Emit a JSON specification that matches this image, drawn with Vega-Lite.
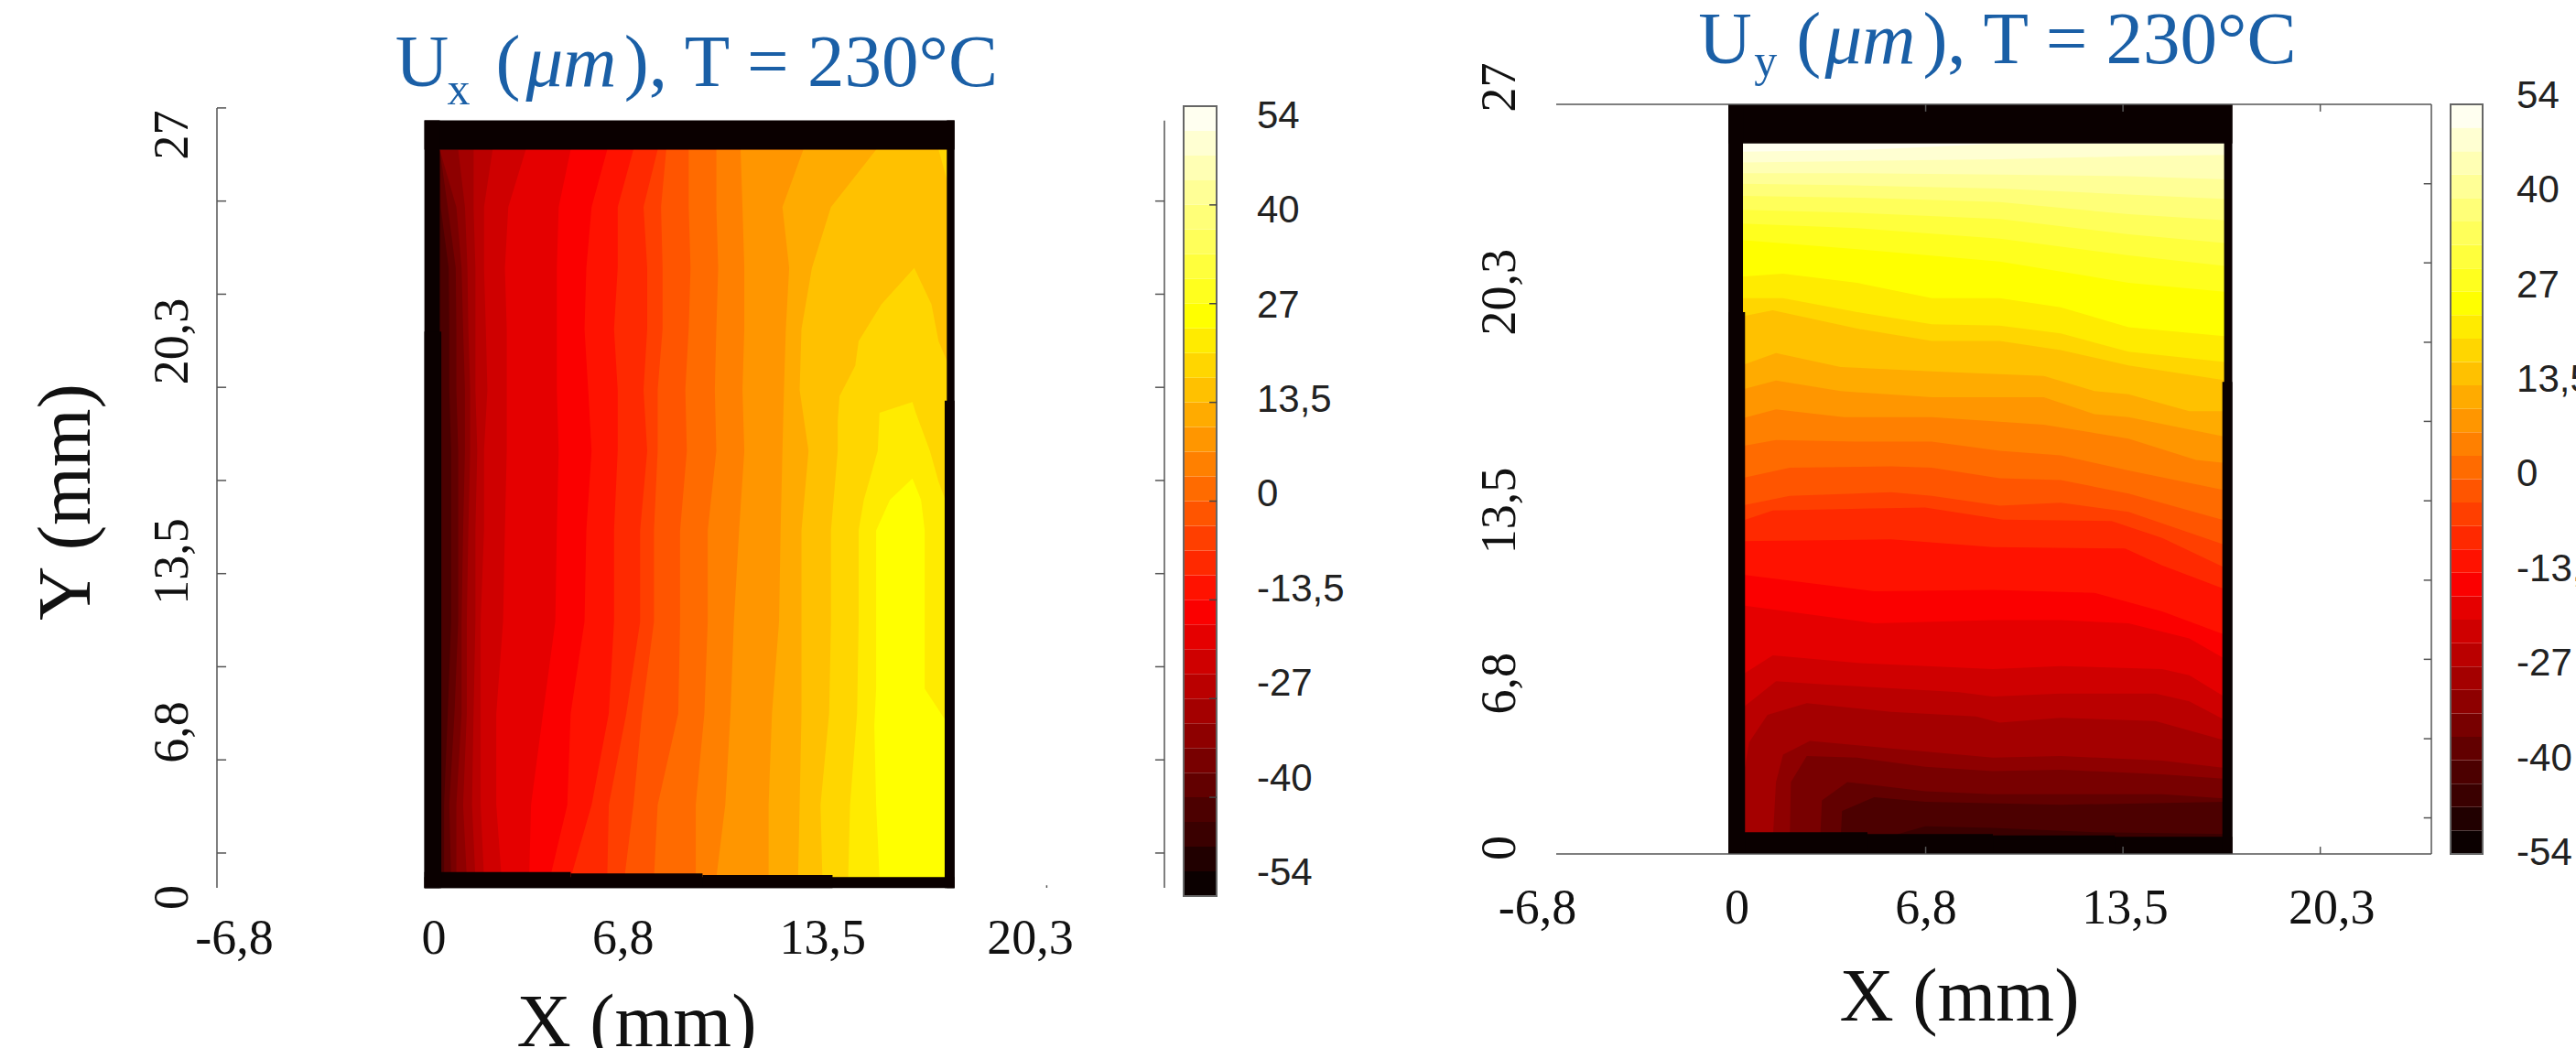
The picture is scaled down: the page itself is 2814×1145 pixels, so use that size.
{"$schema":"https://vega.github.io/schema/vega-lite/v6.json","background":"white","padding":{"left":31,"top":3,"right":0,"bottom":0},"autosize":{"type":"pad"},"bounds":"flush","spacing":21,"config":{"view":{"stroke":null},"legend":{"disable":true},"range":{"ordinal":["#0b0000","#210000","#3a0000","#4c0000","#620000","#780000","#8e0000","#a40000","#ba0000","#cf0000","#e50000","#fb0000","#ff1200","#ff2900","#ff3f00","#ff5500","#ff6b00","#ff8000","#ff9600","#ffab00","#ffc100","#ffd600","#ffeb00","#ffff00","#ffff1e","#ffff3c","#ffff5a","#ffff78","#ffff96","#ffffb4","#ffffd2","#fffff0"]}},"hconcat":[{"width":1035,"height":865,"layer":[{"data":{"values":[{"y":25.49,"b02":0.4,"b03":0.5,"b04":0.5,"b05":0.5,"b06":0.5,"b07":1.10,"b08":1.60,"b09":2.22,"b10":3.30,"b11":4.76,"b12":5.95,"b13":6.80,"b14":7.59,"b15":7.87,"b16":8.60,"b17":9.50,"b18":10.29,"b19":12.33,"b20":14.70},{"y":23.41,"b02":0.4,"b03":0.5,"b04":0.53,"b05":0.76,"b06":1.04,"b07":1.32,"b08":1.60,"b09":1.94,"b10":2.73,"b11":4.37,"b12":5.44,"b13":6.29,"b14":7.13,"b15":7.70,"b16":8.60,"b17":9.50,"b18":10.35,"b19":11.65,"b20":13.23},{"y":21.2,"b02":0.4,"b03":0.5,"b04":0.79,"b05":1.02,"b06":1.21,"b07":1.40,"b08":1.66,"b09":1.94,"b10":2.62,"b11":4.31,"b12":5.27,"b13":6.29,"b14":7.25,"b15":7.75,"b16":8.66,"b17":9.56,"b18":10.41,"b19":11.87,"b20":12.61},{"y":18.99,"b02":0.4,"b03":0.5,"b04":0.81,"b05":1.04,"b06":1.26,"b07":1.43,"b08":1.66,"b09":2.0,"b10":2.68,"b11":4.31,"b12":5.21,"b13":6.17,"b14":7.25,"b15":7.75,"b16":8.60,"b17":9.50,"b18":10.41,"b19":11.76,"b20":12.27},{"y":16.78,"b02":0.4,"b03":0.55,"b04":0.81,"b05":1.04,"b06":1.32,"b07":1.49,"b08":1.66,"b09":2.05,"b10":2.68,"b11":4.31,"b12":5.33,"b13":6.29,"b14":7.13,"b15":7.59,"b16":8.49,"b17":9.45,"b18":10.35,"b19":11.70,"b20":12.21},{"y":14.57,"b02":0.4,"b03":0.55,"b04":0.87,"b05":1.10,"b06":1.32,"b07":1.49,"b08":1.72,"b09":1.94,"b10":2.68,"b11":4.37,"b12":5.44,"b13":6.29,"b14":7.25,"b15":7.59,"b16":8.54,"b17":9.50,"b18":10.41,"b19":11.65,"b20":12.50},{"y":11.69,"b02":0.4,"b03":0.55,"b04":0.87,"b05":1.10,"b06":1.26,"b07":1.43,"b08":1.66,"b09":1.94,"b10":2.62,"b11":4.31,"b12":5.27,"b13":6.17,"b14":7.02,"b15":7.47,"b16":8.32,"b17":9.22,"b18":10.24,"b19":11.59,"b20":12.27},{"y":8.38,"b02":0.4,"b03":0.55,"b04":0.87,"b05":1.10,"b06":1.21,"b07":1.38,"b08":1.66,"b09":1.83,"b10":2.56,"b11":4.26,"b12":5.21,"b13":6.17,"b14":7.02,"b15":7.47,"b16":8.32,"b17":9.22,"b18":10.07,"b19":11.54,"b20":12.27},{"y":5.06,"b02":0.4,"b03":0.55,"b04":0.76,"b05":0.98,"b06":1.21,"b07":1.38,"b08":1.60,"b09":1.83,"b10":2.34,"b11":3.86,"b12":4.76,"b13":6.0,"b14":6.57,"b15":7.08,"b16":8.26,"b17":9.11,"b18":9.96,"b19":11.31,"b20":12.27},{"y":1.74,"b02":0.4,"b03":0.55,"b04":0.64,"b05":0.81,"b06":1.04,"b07":1.26,"b08":1.55,"b09":1.83,"b10":2.34,"b11":3.47,"b12":4.65,"b13":5.44,"b14":6.0,"b15":6.80,"b16":7.59,"b17":8.83,"b18":9.79,"b19":11.2,"b20":12.21},{"y":-0.9,"b02":0.4,"b03":0.55,"b04":0.64,"b05":0.87,"b06":1.04,"b07":1.38,"b08":1.66,"b09":1.94,"b10":2.51,"b11":3.41,"b12":4.09,"b13":4.76,"b14":5.95,"b15":6.51,"b16":7.47,"b17":8.83,"b18":9.50,"b19":11.2,"b20":12.16}]},"transform":[{"fold":["b02","b03","b04","b05","b06","b07","b08","b09","b10","b11","b12","b13","b14","b15","b16","b17","b18","b19","b20"],"as":["band","xpos"]}],"mark":{"type":"area","orient":"horizontal"},"encoding":{"x":{"field":"xpos","type":"quantitative","stack":null,"title":"X (mm)","scale":{"domain":[-6.75,24.08],"nice":false,"zero":false},"axis":{"values":[-6.75,0,6.75,13.5,20.25],"labelExpr":"datum.value==-6.75?'-6,8':datum.value==0?'0':datum.value==6.75?'6,8':datum.value==13.5?'13,5':'20,3'","domain":false,"ticks":false,"grid":false,"labelFont":"Liberation Serif","labelFontSize":54,"labelColor":"#111","labelBaseline":"alphabetic","labelPadding":62,"labelFlush":false,"labelOverlap":false,"labelOffset":{"condition":[{"test":"datum.value==-6.75","value":18.5},{"test":"datum.value==0","value":10},{"test":"datum.value==6.75","value":-10}],"value":-18.5},"titleFont":"Liberation Serif","titleFontSize":82,"titleFontWeight":"normal","titleColor":"#111","titleX":458,"titleY":163,"titleBaseline":"alphabetic","titleAlign":"center"}},"x2":{"datum":17.1},"y":{"field":"y","type":"quantitative","title":"Y (mm)","scale":{"domain":[-1.56,27.13],"nice":false,"zero":false},"axis":{"values":[0,6.75,13.5,20.25,27],"labelExpr":"datum.value==0?'0':datum.value==6.75?'6,8':datum.value==13.5?'13,5':datum.value==20.25?'20,3':'27'","domain":false,"ticks":false,"grid":false,"labelFont":"Liberation Serif","labelFontSize":54,"labelColor":"#111","labelAngle":-90,"labelAlign":"center","labelBaseline":"alphabetic","labelPadding":33,"labelOverlap":false,"labelFlush":false,"labelOffset":{"condition":[{"test":"datum.value==27","value":29},{"test":"datum.value==20.25","value":51},{"test":"datum.value==13.5","value":88},{"test":"datum.value==6.75","value":71}],"value":48},"titleFont":"Liberation Serif","titleFontSize":82,"titleFontWeight":"normal","titleColor":"#111","titleX":-140,"titleY":434,"titleBaseline":"alphabetic","titleAlign":"center"}},"color":{"field":"band","type":"ordinal"}}},{"data":{"values":[{"band":"b21","y":25.49,"x":16.73,"x2":17.07},{"band":"b21","y":24.13,"x":17.07,"x2":17.07},{"band":"b21","y":21.2,"x":15.94,"x2":15.94},{"band":"b21","y":19.88,"x":14.87,"x2":16.5},{"band":"b21","y":18.55,"x":14.13,"x2":16.73},{"band":"b21","y":17.66,"x":14.02,"x2":17.07},{"band":"b21","y":16.56,"x":13.51,"x2":17.07},{"band":"b21","y":15.67,"x":13.45,"x2":17.07},{"band":"b21","y":14.57,"x":13.45,"x2":17.07},{"band":"b21","y":11.69,"x":13.23,"x2":17.07},{"band":"b21","y":8.38,"x":13.23,"x2":17.07},{"band":"b21","y":5.06,"x":13.17,"x2":17.07},{"band":"b21","y":1.74,"x":12.89,"x2":17.07},{"band":"b21","y":-0.9,"x":12.95,"x2":17.07},{"band":"b22","y":16.34,"x":15.88,"x2":15.88},{"band":"b22","y":15.95,"x":14.81,"x2":15.99},{"band":"b22","y":14.57,"x":14.75,"x2":16.45},{"band":"b22","y":13.46,"x":14.47,"x2":16.73},{"band":"b22","y":12.8,"x":14.3,"x2":16.95},{"band":"b22","y":11.69,"x":14.13,"x2":17.07},{"band":"b22","y":8.38,"x":14.13,"x2":17.07},{"band":"b22","y":5.06,"x":14.08,"x2":17.07},{"band":"b22","y":1.74,"x":13.85,"x2":17.07},{"band":"b22","y":-0.9,"x":13.79,"x2":17.07},{"band":"b23","y":13.57,"x":15.88,"x2":15.88},{"band":"b23","y":12.8,"x":15.15,"x2":16.16},{"band":"b23","y":11.69,"x":14.7,"x2":16.28},{"band":"b23","y":8.38,"x":14.7,"x2":16.28},{"band":"b23","y":5.95,"x":14.7,"x2":16.28},{"band":"b23","y":4.62,"x":14.64,"x2":17.07},{"band":"b23","y":1.74,"x":14.7,"x2":17.07},{"band":"b23","y":-0.9,"x":14.81,"x2":17.07}]},"mark":{"type":"area","orient":"horizontal"},"encoding":{"x":{"field":"x","type":"quantitative","stack":null,"title":"X (mm)","scale":{"domain":[-6.75,24.08],"nice":false,"zero":false}},"x2":{"field":"x2"},"y":{"field":"y","type":"quantitative","title":"Y (mm)","scale":{"domain":[-1.56,27.13],"nice":false,"zero":false}},"color":{"field":"band","type":"ordinal"}}},{"data":{"values":[{"x":0,"x2":17.25,"y":25.49,"y2":26.55},{"x":0,"x2":17.25,"y":-1.27,"y2":-0.87},{"x":0,"x2":4.76,"y":-1.27,"y2":-0.69},{"x":4.76,"x2":9.05,"y":-1.27,"y2":-0.74},{"x":9.05,"x2":13.28,"y":-1.27,"y2":-0.8},{"x":0,"x2":0.5,"y":-1.27,"y2":26.55},{"x":0,"x2":0.55,"y":-1.27,"y2":18.9},{"x":17.0,"x2":17.25,"y":-1.27,"y2":26.55},{"x":16.93,"x2":17.25,"y":-1.27,"y2":16.39}]},"mark":{"type":"rect","color":"#0a0000"},"encoding":{"x":{"field":"x","type":"quantitative","title":"X (mm)","scale":{"domain":[-6.75,24.08],"nice":false,"zero":false}},"x2":{"field":"x2"},"y":{"field":"y","type":"quantitative","title":"Y (mm)","scale":{"domain":[-1.56,27.13],"nice":false,"zero":false}},"y2":{"field":"y2"}}},{"data":{"values":[{"x":-6.75,"x2":-6.75,"y":-1.26,"y2":27},{"x":-6.75,"x2":-6.45,"y":27,"y2":27},{"x":-6.75,"x2":-6.45,"y":23.625,"y2":23.625},{"x":-6.75,"x2":-6.45,"y":20.25,"y2":20.25},{"x":-6.75,"x2":-6.45,"y":16.875,"y2":16.875},{"x":-6.75,"x2":-6.45,"y":13.5,"y2":13.5},{"x":-6.75,"x2":-6.45,"y":10.125,"y2":10.125},{"x":-6.75,"x2":-6.45,"y":6.75,"y2":6.75},{"x":-6.75,"x2":-6.45,"y":3.375,"y2":3.375},{"x":-6.75,"x2":-6.45,"y":0,"y2":0},{"x":24.08,"x2":24.08,"y":-1.26,"y2":26.54},{"x":23.78,"x2":24.08,"y":23.625,"y2":23.625},{"x":23.78,"x2":24.08,"y":20.25,"y2":20.25},{"x":23.78,"x2":24.08,"y":16.875,"y2":16.875},{"x":23.78,"x2":24.08,"y":13.5,"y2":13.5},{"x":23.78,"x2":24.08,"y":10.125,"y2":10.125},{"x":23.78,"x2":24.08,"y":6.75,"y2":6.75},{"x":23.78,"x2":24.08,"y":3.375,"y2":3.375},{"x":23.78,"x2":24.08,"y":0,"y2":0},{"x":20.25,"x2":20.25,"y":-1.26,"y2":-1.17}]},"mark":{"type":"rule","color":"#555555","strokeWidth":1.5},"encoding":{"x":{"field":"x","type":"quantitative","title":"X (mm)","scale":{"domain":[-6.75,24.08],"nice":false,"zero":false}},"x2":{"field":"x2"},"y":{"field":"y","type":"quantitative","title":"Y (mm)","scale":{"domain":[-1.56,27.13],"nice":false,"zero":false}},"y2":{"field":"y2"}}},{"data":{"values":[{"t":"U","x":-0.95,"y":27.79},{"t":"(","x":2.32,"y":27.79},{"t":"), T = 230°C","x":6.5,"y":27.79}]},"mark":{"type":"text","font":"Liberation Serif","fontSize":81,"color":"#1a5fa6","align":"left","baseline":"alphabetic"},"encoding":{"text":{"field":"t"},"x":{"field":"x","type":"quantitative","title":"X (mm)","scale":{"domain":[-6.75,24.08],"nice":false,"zero":false}},"y":{"field":"y","type":"quantitative","title":"Y (mm)","scale":{"domain":[-1.56,27.13],"nice":false,"zero":false}}}},{"data":{"values":[{"t":"x","x":0.74,"y":27.13}]},"mark":{"type":"text","font":"Liberation Serif","fontSize":50,"color":"#1a5fa6","align":"left","baseline":"alphabetic"},"encoding":{"text":{"field":"t"},"x":{"field":"x","type":"quantitative","title":"X (mm)","scale":{"domain":[-6.75,24.08],"nice":false,"zero":false}},"y":{"field":"y","type":"quantitative","title":"Y (mm)","scale":{"domain":[-1.56,27.13],"nice":false,"zero":false}}}},{"data":{"values":[{"t":"μm","x":3.3,"y":27.79}]},"mark":{"type":"text","font":"Liberation Serif","fontSize":81,"fontStyle":"italic","color":"#1a5fa6","align":"left","baseline":"alphabetic"},"encoding":{"text":{"field":"t"},"x":{"field":"x","type":"quantitative","title":"X (mm)","scale":{"domain":[-6.75,24.08],"nice":false,"zero":false}},"y":{"field":"y","type":"quantitative","title":"Y (mm)","scale":{"domain":[-1.56,27.13],"nice":false,"zero":false}}}}]},{"width":36,"height":865,"resolve":{"scale":{"y":"independent"}},"layer":[{"data":{"name":"bar"},"mark":{"type":"rect"},"encoding":{"x":{"datum":0,"type":"quantitative","scale":{"domain":[0,1],"nice":false,"zero":false},"axis":null},"x2":{"datum":1},"y":{"field":"lo","type":"quantitative","scale":{"domain":[-54,54.25],"nice":false,"zero":false},"axis":null},"y2":{"field":"hi"},"color":{"field":"band","type":"ordinal"}}},{"data":{"values":[{"v":-54,"v2":54}]},"mark":{"type":"rect","fillOpacity":0,"stroke":"#666666","strokeWidth":2},"encoding":{"x":{"datum":0,"type":"quantitative","scale":{"domain":[0,1],"nice":false,"zero":false},"axis":null},"x2":{"datum":1},"y":{"field":"v","type":"quantitative","scale":{"domain":[-54,54.25],"nice":false,"zero":false},"axis":null},"y2":{"field":"v2"}}},{"data":{"values":[{"v":40.5},{"v":27},{"v":13.5},{"v":0},{"v":-13.5},{"v":-27},{"v":-40.5}]},"mark":{"type":"rule","color":"#444444","strokeWidth":1.5},"encoding":{"x":{"datum":0.78,"type":"quantitative","scale":{"domain":[0,1],"nice":false,"zero":false},"axis":null},"x2":{"datum":1},"y":{"field":"v","type":"quantitative","scale":{"domain":[-54,54.25],"nice":false,"zero":false},"axis":null}}},{"data":{"values":[{"v":54,"t":"54"},{"v":40.5,"t":"40"},{"v":27,"t":"27"},{"v":13.5,"t":"13,5"},{"v":0,"t":"0"},{"v":-13.5,"t":"-13,5"},{"v":-27,"t":"-27"},{"v":-40.5,"t":"-40"},{"v":-54,"t":"-54"}]},"mark":{"type":"text","font":"Liberation Sans","fontSize":42,"color":"#222222","align":"left","baseline":"middle"},"encoding":{"text":{"field":"t"},"x":{"datum":2.22,"type":"quantitative","scale":{"domain":[0,1],"nice":false,"zero":false},"axis":null},"y":{"field":"v","type":"quantitative","scale":{"domain":[-57.27,55.7],"nice":false,"zero":false},"axis":null}}}]},{"width":1306,"height":865,"layer":[{"data":{"values":[{"band":"b02","x":0.4,"y":0.5},{"band":"b02","x":17.1,"y":0.5},{"band":"b03","x":0.45,"y":0.5},{"band":"b03","x":5.57,"y":0.5},{"band":"b03","x":5.81,"y":0.72},{"band":"b03","x":6.73,"y":1.0},{"band":"b03","x":9.05,"y":0.94},{"band":"b03","x":12.53,"y":0.78},{"band":"b03","x":17.05,"y":0.72},{"band":"b04","x":0.45,"y":0.5},{"band":"b04","x":3.84,"y":0.5},{"band":"b04","x":3.89,"y":1.55},{"band":"b04","x":4.99,"y":2.04},{"band":"b04","x":6.73,"y":1.88},{"band":"b04","x":11.37,"y":1.77},{"band":"b04","x":17.05,"y":1.88},{"band":"b05","x":0.45,"y":0.5},{"band":"b05","x":3.14,"y":0.5},{"band":"b05","x":3.2,"y":1.93},{"band":"b05","x":4.07,"y":2.59},{"band":"b05","x":6.73,"y":2.26},{"band":"b05","x":9.05,"y":2.15},{"band":"b05","x":11.37,"y":2.15},{"band":"b05","x":14.84,"y":2.15},{"band":"b05","x":17.05,"y":1.99},{"band":"b06","x":0.45,"y":0.5},{"band":"b06","x":2.1,"y":0.5},{"band":"b06","x":2.14,"y":2.59},{"band":"b06","x":2.68,"y":3.53},{"band":"b06","x":4.41,"y":3.47},{"band":"b06","x":6.73,"y":3.14},{"band":"b06","x":9.05,"y":2.98},{"band":"b06","x":11.37,"y":3.03},{"band":"b06","x":14.84,"y":2.87},{"band":"b06","x":17.05,"y":2.7},{"band":"b07","x":0.45,"y":0.5},{"band":"b07","x":1.52,"y":0.5},{"band":"b07","x":1.63,"y":2.59},{"band":"b07","x":1.87,"y":3.58},{"band":"b07","x":2.79,"y":4.07},{"band":"b07","x":5.57,"y":3.8},{"band":"b07","x":9.05,"y":3.47},{"band":"b07","x":11.37,"y":3.53},{"band":"b07","x":14.84,"y":3.36},{"band":"b07","x":17.05,"y":3.09},{"band":"b08","x":0.45,"y":3.14},{"band":"b08","x":0.57,"y":3.14},{"band":"b08","x":0.71,"y":4.02},{"band":"b08","x":1.34,"y":5.01},{"band":"b08","x":2.68,"y":5.43},{"band":"b08","x":5.57,"y":5.12},{"band":"b08","x":8.47,"y":4.95},{"band":"b08","x":9.28,"y":4.73},{"band":"b08","x":11.37,"y":4.9},{"band":"b08","x":14.61,"y":4.79},{"band":"b08","x":17.05,"y":4.07},{"band":"b09","x":0.45,"y":5.23},{"band":"b09","x":1.63,"y":6.22},{"band":"b09","x":3.26,"y":6.11},{"band":"b09","x":7.89,"y":5.83},{"band":"b09","x":9.05,"y":5.67},{"band":"b09","x":11.37,"y":5.78},{"band":"b09","x":14.61,"y":5.78},{"band":"b09","x":15.77,"y":5.5},{"band":"b09","x":17.05,"y":4.79},{"band":"b10","x":0.45,"y":6.44},{"band":"b10","x":1.52,"y":7.15},{"band":"b10","x":4.41,"y":6.88},{"band":"b10","x":9.05,"y":6.66},{"band":"b10","x":11.37,"y":6.77},{"band":"b10","x":14.84,"y":6.66},{"band":"b10","x":15.77,"y":6.44},{"band":"b10","x":17.05,"y":5.61},{"band":"b11","x":0.45,"y":8.96},{"band":"b11","x":4.99,"y":8.31},{"band":"b11","x":9.05,"y":8.42},{"band":"b11","x":11.37,"y":8.42},{"band":"b11","x":13.69,"y":8.31},{"band":"b11","x":15.77,"y":7.76},{"band":"b11","x":17.05,"y":6.99},{"band":"b12","x":0.45,"y":10.06},{"band":"b12","x":4.99,"y":9.46},{"band":"b12","x":9.05,"y":9.51},{"band":"b12","x":12.53,"y":9.4},{"band":"b12","x":14.84,"y":8.74},{"band":"b12","x":17.05,"y":7.87},{"band":"b13","x":0.45,"y":11.27},{"band":"b13","x":5.57,"y":11.33},{"band":"b13","x":9.05,"y":11.05},{"band":"b13","x":13.57,"y":11.0},{"band":"b13","x":14.84,"y":10.39},{"band":"b13","x":17.05,"y":9.51},{"band":"b14","x":0.45,"y":11.99},{"band":"b14","x":1.52,"y":12.37},{"band":"b14","x":6.73,"y":12.48},{"band":"b14","x":9.4,"y":12.04},{"band":"b14","x":13.11,"y":11.99},{"band":"b14","x":14.84,"y":11.38},{"band":"b14","x":17.05,"y":10.28},{"band":"b15","x":0.45,"y":12.54},{"band":"b15","x":2.1,"y":12.9},{"band":"b15","x":5.57,"y":13.03},{"band":"b15","x":6.96,"y":12.9},{"band":"b15","x":9.28,"y":12.54},{"band":"b15","x":11.37,"y":12.65},{"band":"b15","x":13.69,"y":12.32},{"band":"b15","x":17.05,"y":11.11},{"band":"b16","x":0.45,"y":13.53},{"band":"b16","x":2.1,"y":13.91},{"band":"b16","x":5.57,"y":13.96},{"band":"b16","x":6.96,"y":13.91},{"band":"b16","x":9.28,"y":13.53},{"band":"b16","x":11.37,"y":13.47},{"band":"b16","x":13.69,"y":12.98},{"band":"b16","x":17.05,"y":11.99},{"band":"b17","x":0.45,"y":14.69},{"band":"b17","x":1.63,"y":14.91},{"band":"b17","x":4.41,"y":14.85},{"band":"b17","x":6.96,"y":14.85},{"band":"b17","x":9.28,"y":14.52},{"band":"b17","x":11.37,"y":14.36},{"band":"b17","x":13.69,"y":13.81},{"band":"b17","x":17.05,"y":13.09},{"band":"b18","x":0.45,"y":15.68},{"band":"b18","x":1.63,"y":16.01},{"band":"b18","x":3.95,"y":15.73},{"band":"b18","x":6.96,"y":15.73},{"band":"b18","x":10.79,"y":15.46},{"band":"b18","x":13.69,"y":14.96},{"band":"b18","x":16.0,"y":14.19},{"band":"b18","x":17.05,"y":14.08},{"band":"b19","x":0.45,"y":16.72},{"band":"b19","x":1.63,"y":17.05},{"band":"b19","x":3.84,"y":16.67},{"band":"b19","x":6.96,"y":16.45},{"band":"b19","x":10.79,"y":16.45},{"band":"b19","x":12.53,"y":15.84},{"band":"b19","x":13.69,"y":15.73},{"band":"b19","x":17.05,"y":15.02},{"band":"b20","x":0.45,"y":17.6},{"band":"b20","x":1.63,"y":18.04},{"band":"b20","x":3.84,"y":17.54},{"band":"b20","x":6.96,"y":17.38},{"band":"b20","x":10.79,"y":17.22},{"band":"b20","x":12.53,"y":16.67},{"band":"b20","x":13.69,"y":16.56},{"band":"b20","x":15.77,"y":15.95},{"band":"b20","x":17.05,"y":15.95},{"band":"b21","x":0.45,"y":19.36},{"band":"b21","x":1.52,"y":19.58},{"band":"b21","x":4.41,"y":18.92},{"band":"b21","x":6.96,"y":18.48},{"band":"b21","x":9.28,"y":18.48},{"band":"b21","x":11.37,"y":18.15},{"band":"b21","x":13.69,"y":17.6},{"band":"b21","x":17.05,"y":17.05},{"band":"b22","x":0.45,"y":20.02},{"band":"b22","x":1.87,"y":20.02},{"band":"b22","x":4.41,"y":19.52},{"band":"b22","x":6.96,"y":19.08},{"band":"b22","x":9.28,"y":19.03},{"band":"b22","x":11.37,"y":18.75},{"band":"b22","x":13.69,"y":18.09},{"band":"b22","x":17.05,"y":17.71},{"band":"b23","x":0.45,"y":20.79},{"band":"b23","x":1.87,"y":20.9},{"band":"b23","x":4.41,"y":20.57},{"band":"b23","x":6.96,"y":20.02},{"band":"b23","x":9.28,"y":20.02},{"band":"b23","x":11.37,"y":19.69},{"band":"b23","x":13.69,"y":18.97},{"band":"b23","x":17.05,"y":18.64},{"band":"b24","x":0.45,"y":22.11},{"band":"b24","x":4.41,"y":21.78},{"band":"b24","x":9.28,"y":21.34},{"band":"b24","x":13.69,"y":20.57},{"band":"b24","x":17.05,"y":20.24},{"band":"b25","x":0.45,"y":22.71},{"band":"b25","x":4.41,"y":22.54},{"band":"b25","x":9.28,"y":22.16},{"band":"b25","x":13.69,"y":21.56},{"band":"b25","x":17.05,"y":21.17},{"band":"b26","x":0.45,"y":23.2},{"band":"b26","x":4.41,"y":23.09},{"band":"b26","x":9.28,"y":22.87},{"band":"b26","x":13.69,"y":22.32},{"band":"b26","x":17.05,"y":22.0},{"band":"b27","x":0.45,"y":23.7},{"band":"b27","x":4.41,"y":23.64},{"band":"b27","x":9.28,"y":23.48},{"band":"b27","x":13.69,"y":23.04},{"band":"b27","x":17.05,"y":22.82},{"band":"b28","x":0.45,"y":24.14},{"band":"b28","x":4.41,"y":24.08},{"band":"b28","x":9.28,"y":23.97},{"band":"b28","x":13.69,"y":23.75},{"band":"b28","x":17.05,"y":23.59},{"band":"b29","x":0.45,"y":24.52},{"band":"b29","x":4.41,"y":24.52},{"band":"b29","x":9.28,"y":24.47},{"band":"b29","x":13.69,"y":24.41},{"band":"b29","x":17.05,"y":24.3},{"band":"b30","x":0.45,"y":24.91},{"band":"b30","x":4.41,"y":24.96},{"band":"b30","x":9.28,"y":25.02},{"band":"b30","x":13.69,"y":25.13},{"band":"b30","x":17.05,"y":25.18},{"band":"b31","x":0.45,"y":25.29},{"band":"b31","x":4.41,"y":25.35},{"band":"b31","x":9.28,"y":25.59},{"band":"b31","x":13.69,"y":25.59},{"band":"b31","x":17.05,"y":25.59}]},"mark":{"type":"area","orient":"vertical"},"encoding":{"x":{"field":"x","type":"quantitative","title":"X (mm)","scale":{"domain":[-16.85,24.05],"nice":false,"zero":false},"axis":{"values":[-6.75,0,6.75,13.5,20.25],"labelExpr":"datum.value==-6.75?'-6,8':datum.value==0?'0':datum.value==6.75?'6,8':datum.value==13.5?'13,5':'20,3'","domain":false,"ticks":false,"grid":false,"labelFont":"Liberation Serif","labelFontSize":54,"labelColor":"#111","labelBaseline":"alphabetic","labelPadding":29,"labelFlush":false,"labelOverlap":false,"labelOffset":{"condition":[{"test":"datum.value==-6.75","value":6.5},{"test":"datum.value==0","value":9},{"test":"datum.value==6.75","value":0},{"test":"datum.value==13.5","value":2}],"value":12},"titleFont":"Liberation Serif","titleFontSize":82,"titleFontWeight":"normal","titleColor":"#111","titleX":790,"titleY":135,"titleBaseline":"alphabetic","titleAlign":"center"}},"y":{"field":"y","type":"quantitative","stack":null,"title":null,"scale":{"domain":[-1.517,27],"nice":false,"zero":false},"axis":{"values":[0,6.75,13.5,20.25,27],"labelExpr":"datum.value==0?'0':datum.value==6.75?'6,8':datum.value==13.5?'13,5':datum.value==20.25?'20,3':'27'","domain":false,"ticks":false,"grid":false,"labelFont":"Liberation Serif","labelFontSize":54,"labelColor":"#111","labelAngle":-90,"labelAlign":"center","labelBaseline":"alphabetic","labelPadding":-304,"labelOverlap":false,"labelFlush":false,"labelOffset":{"condition":[{"test":"datum.value==27","value":-19},{"test":"datum.value==20.25","value":0},{"test":"datum.value==13.5","value":34},{"test":"datum.value==6.75","value":18}],"value":-7}}},"y2":{"datum":25.7},"color":{"field":"band","type":"ordinal"}}},{"data":{"values":[{"x":0,"x2":17.24,"y":25.59,"y2":27},{"x":0,"x2":17.24,"y":0,"y2":0.62},{"x":0,"x2":4.76,"y":0,"y2":0.78},{"x":4.76,"x2":9.05,"y":0,"y2":0.72},{"x":9.05,"x2":13.22,"y":0,"y2":0.67},{"x":0,"x2":0.5,"y":0,"y2":27},{"x":0,"x2":0.57,"y":0,"y2":19.52},{"x":16.96,"x2":17.24,"y":0,"y2":27},{"x":16.9,"x2":17.24,"y":0,"y2":17.0}]},"mark":{"type":"rect","color":"#0a0000"},"encoding":{"x":{"field":"x","type":"quantitative","title":"X (mm)","scale":{"domain":[-16.85,24.05],"nice":false,"zero":false}},"x2":{"field":"x2"},"y":{"field":"y","type":"quantitative","title":null,"scale":{"domain":[-1.517,27],"nice":false,"zero":false}},"y2":{"field":"y2"}}},{"data":{"values":[{"x":-5.89,"x2":24.05,"y":27,"y2":27},{"x":-5.89,"x2":24.05,"y":0,"y2":0},{"x":24.05,"x2":24.05,"y":0,"y2":27},{"x":6.75,"x2":6.75,"y":26.74,"y2":27},{"x":13.5,"x2":13.5,"y":26.74,"y2":27},{"x":20.25,"x2":20.25,"y":26.74,"y2":27},{"x":6.75,"x2":6.75,"y":0,"y2":0.26},{"x":13.5,"x2":13.5,"y":0,"y2":0.26},{"x":20.25,"x2":20.25,"y":0,"y2":0.26},{"x":23.79,"x2":24.05,"y":24.14,"y2":24.14},{"x":23.79,"x2":24.05,"y":21.29,"y2":21.29},{"x":23.79,"x2":24.05,"y":18.43,"y2":18.43},{"x":23.79,"x2":24.05,"y":15.58,"y2":15.58},{"x":23.79,"x2":24.05,"y":12.72,"y2":12.72},{"x":23.79,"x2":24.05,"y":9.86,"y2":9.86},{"x":23.79,"x2":24.05,"y":7.01,"y2":7.01},{"x":23.79,"x2":24.05,"y":4.15,"y2":4.15},{"x":23.79,"x2":24.05,"y":1.3,"y2":1.3}]},"mark":{"type":"rule","color":"#555555","strokeWidth":1.5},"encoding":{"x":{"field":"x","type":"quantitative","title":"X (mm)","scale":{"domain":[-16.85,24.05],"nice":false,"zero":false}},"y":{"field":"y","type":"quantitative","title":null,"scale":{"domain":[-1.517,27],"nice":false,"zero":false}},"x2":{"field":"x2"},"y2":{"field":"y2"}}},{"data":{"values":[{"t":"U","x":-1.03,"y":28.49},{"t":"(","x":2.32,"y":28.49},{"t":"), T = 230°C","x":6.65,"y":28.49}]},"mark":{"type":"text","font":"Liberation Serif","fontSize":81,"color":"#1a5fa6","align":"left","baseline":"alphabetic"},"encoding":{"text":{"field":"t"},"x":{"field":"x","type":"quantitative","title":"X (mm)","scale":{"domain":[-16.85,24.05],"nice":false,"zero":false}},"y":{"field":"y","type":"quantitative","title":null,"scale":{"domain":[-1.517,27],"nice":false,"zero":false}}}},{"data":{"values":[{"t":"y","x":0.88,"y":28.02}]},"mark":{"type":"text","font":"Liberation Serif","fontSize":50,"color":"#1a5fa6","align":"left","baseline":"alphabetic"},"encoding":{"text":{"field":"t"},"x":{"field":"x","type":"quantitative","title":"X (mm)","scale":{"domain":[-16.85,24.05],"nice":false,"zero":false}},"y":{"field":"y","type":"quantitative","title":null,"scale":{"domain":[-1.517,27],"nice":false,"zero":false}}}},{"data":{"values":[{"t":"μm","x":3.3,"y":28.49}]},"mark":{"type":"text","font":"Liberation Serif","fontSize":81,"fontStyle":"italic","color":"#1a5fa6","align":"left","baseline":"alphabetic"},"encoding":{"text":{"field":"t"},"x":{"field":"x","type":"quantitative","title":"X (mm)","scale":{"domain":[-16.85,24.05],"nice":false,"zero":false}},"y":{"field":"y","type":"quantitative","title":null,"scale":{"domain":[-1.517,27],"nice":false,"zero":false}}}}]},{"width":35,"height":865,"resolve":{"scale":{"y":"independent"}},"layer":[{"data":{"name":"bar"},"mark":{"type":"rect"},"encoding":{"x":{"datum":0,"type":"quantitative","scale":{"domain":[0,1],"nice":false,"zero":false},"axis":null},"x2":{"datum":1},"y":{"field":"lo","type":"quantitative","scale":{"domain":[-60.07,54],"nice":false,"zero":false},"axis":null},"y2":{"field":"hi"},"color":{"field":"band","type":"ordinal"}}},{"data":{"values":[{"v":-54,"v2":54}]},"mark":{"type":"rect","fillOpacity":0,"stroke":"#666666","strokeWidth":2},"encoding":{"x":{"datum":0,"type":"quantitative","scale":{"domain":[0,1],"nice":false,"zero":false},"axis":null},"x2":{"datum":1},"y":{"field":"v","type":"quantitative","scale":{"domain":[-60.07,54],"nice":false,"zero":false},"axis":null},"y2":{"field":"v2"}}},{"data":{"values":[{"v":54,"t":"54"},{"v":40.5,"t":"40"},{"v":27,"t":"27"},{"v":13.5,"t":"13,5"},{"v":0,"t":"0"},{"v":-13.5,"t":"-13,5"},{"v":-27,"t":"-27"},{"v":-40.5,"t":"-40"},{"v":-54,"t":"-54"}]},"mark":{"type":"text","font":"Liberation Sans","fontSize":42,"color":"#222222","align":"left","baseline":"middle"},"encoding":{"text":{"field":"t"},"x":{"datum":2.06,"type":"quantitative","scale":{"domain":[0,1],"nice":false,"zero":false},"axis":null},"y":{"field":"v","type":"quantitative","scale":{"domain":[-60.14,52.82],"nice":false,"zero":false},"axis":null}}}]}],"datasets":{"bar":[{"band":"b00","lo":-54,"hi":-50.625},{"band":"b01","lo":-50.625,"hi":-47.25},{"band":"b02","lo":-47.25,"hi":-43.875},{"band":"b03","lo":-43.875,"hi":-40.5},{"band":"b04","lo":-40.5,"hi":-37.125},{"band":"b05","lo":-37.125,"hi":-33.75},{"band":"b06","lo":-33.75,"hi":-30.375},{"band":"b07","lo":-30.375,"hi":-27},{"band":"b08","lo":-27,"hi":-23.625},{"band":"b09","lo":-23.625,"hi":-20.25},{"band":"b10","lo":-20.25,"hi":-16.875},{"band":"b11","lo":-16.875,"hi":-13.5},{"band":"b12","lo":-13.5,"hi":-10.125},{"band":"b13","lo":-10.125,"hi":-6.75},{"band":"b14","lo":-6.75,"hi":-3.375},{"band":"b15","lo":-3.375,"hi":0},{"band":"b16","lo":0,"hi":3.375},{"band":"b17","lo":3.375,"hi":6.75},{"band":"b18","lo":6.75,"hi":10.125},{"band":"b19","lo":10.125,"hi":13.5},{"band":"b20","lo":13.5,"hi":16.875},{"band":"b21","lo":16.875,"hi":20.25},{"band":"b22","lo":20.25,"hi":23.625},{"band":"b23","lo":23.625,"hi":27},{"band":"b24","lo":27,"hi":30.375},{"band":"b25","lo":30.375,"hi":33.75},{"band":"b26","lo":33.75,"hi":37.125},{"band":"b27","lo":37.125,"hi":40.5},{"band":"b28","lo":40.5,"hi":43.875},{"band":"b29","lo":43.875,"hi":47.25},{"band":"b30","lo":47.25,"hi":50.625},{"band":"b31","lo":50.625,"hi":54}]}}
